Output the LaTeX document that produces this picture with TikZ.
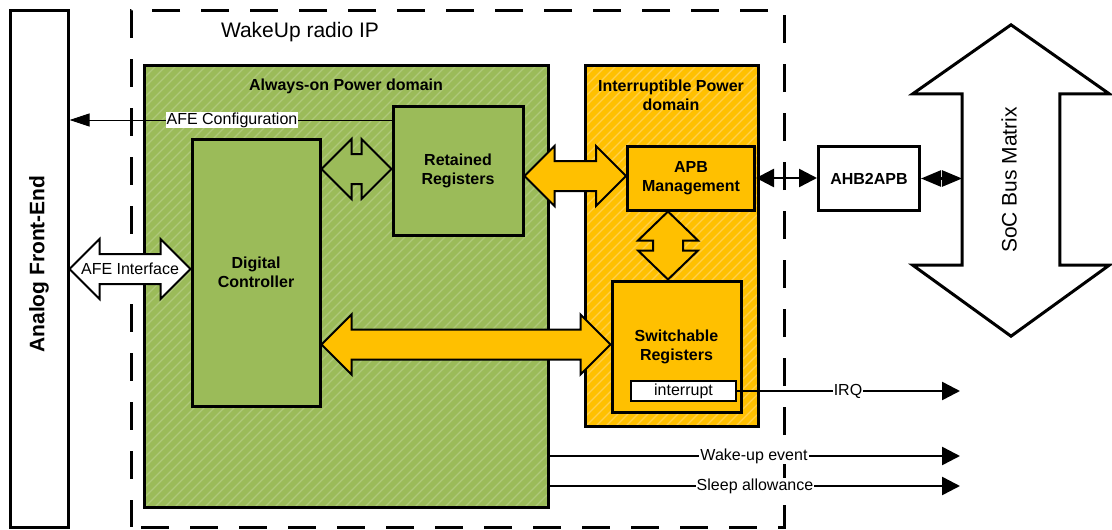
\documentclass[tikz,border=0pt]{standalone}
\usepackage{fontspec}
\setmainfont{Liberation Sans}
\usetikzlibrary{calc,arrows.meta}
\definecolor{aon}{HTML}{9BBB59}
\definecolor{aonh}{HTML}{AFC97A}
\definecolor{ipd}{HTML}{FFC000}
\definecolor{ipdh}{HTML}{FFD04D}
\newcommand\fsz{\fontsize{16}{19}\selectfont}
\newcommand\fbig{\fontsize{21}{25}\selectfont}
% horizontal fat double arrow: style, left tip, right tip
\newcommand\hdarrow[3]{%
  \draw[#1] let \p1=#2, \p2=#3 in
   (\x1,\y1) -- (\x1+30pt,\y1+30pt) -- (\x1+30pt,\y1+15pt) -- (\x2-30pt,\y2+15pt)
   -- (\x2-30pt,\y2+30pt) -- (\x2,\y2) -- (\x2-30pt,\y2-30pt) -- (\x2-30pt,\y2-15pt)
   -- (\x1+30pt,\y1-15pt) -- (\x1+30pt,\y1-30pt) -- cycle;}
% vertical fat double arrow: style, top tip, bottom tip
\newcommand\vdarrow[3]{%
  \draw[#1] let \p1=#2, \p2=#3 in
   (\x1,\y1) -- (\x1+30pt,\y1-29pt) -- (\x1+15pt,\y1-29pt) -- (\x2+15pt,\y2+29pt)
   -- (\x2+30pt,\y2+29pt) -- (\x2,\y2) -- (\x2-30pt,\y2+29pt) -- (\x2-15pt,\y2+29pt)
   -- (\x1-15pt,\y1-29pt) -- (\x1-30pt,\y1-29pt) -- cycle;}
\tikzset{
  plainbox/.style={draw, line width=3pt, rectangle, inner sep=0pt, fill=white},
  dashbox/.style={draw, line width=3pt, rectangle, inner sep=0pt, dash pattern=on 28pt off 21pt, dash phase=-10pt},
  gbox/.style={draw, line width=3pt, rectangle, inner sep=0pt, fill=aon, align=center, font=\fsz\bfseries},
  ybox/.style={draw, line width=3pt, rectangle, inner sep=0pt, fill=ipd, align=center, font=\fsz\bfseries},
  wbox/.style={draw, line width=3pt, rectangle, inner sep=0pt, fill=white, align=center, font=\fsz\bfseries},
  smallbox/.style={draw, line width=1.5pt, rectangle, inner sep=0pt, fill=white, font=\fsz},
  dlabel/.style={align=center, font=\fsz\bfseries, inner sep=0pt},
  lbl/.style={font=\fsz, fill=white, inner sep=1pt},
  hatch/.style={line width=1.3pt},
  fatg/.style={draw, line width=2pt, fill=aon, line join=miter},
  faty/.style={draw, line width=2pt, fill=ipd, line join=miter},
  fatw/.style={draw, line width=2pt, fill=white, line join=miter},
  sig/.style={line width=2.5pt, -{Triangle[length=18pt,width=18pt]}},
  bus/.style={line width=2.5pt, {Triangle[length=18pt,width=18pt]}-{Triangle[length=18pt,width=18pt]}},
  bus2/.style={line width=2.5pt, {Triangle[length=20pt,width=16pt]}-{Triangle[length=20pt,width=16pt]}},
  cfgline/.style={line width=1pt, -{Triangle[length=20pt,width=13pt]}},
}
\begin{document}
\begin{tikzpicture}[x=1pt,y=-1pt]
\fill[white] (0,0) rectangle (1112,530);
\useasboundingbox (0,0) rectangle (1112,530);

% Analog front end
\node[plainbox, minimum width=58pt, minimum height=517pt] (afe) at (39,268.5) {};
\node[font=\fbig\bfseries, rotate=90] (afet) at (39,264) {Analog Front-End};

% WakeUp radio IP frame
\node[dashbox, minimum width=653pt, minimum height=517pt] (ip) at (457.5,268.5) {};
\node[font=\fbig] (ipt) at (300,32) {WakeUp radio IP};

% Always-on domain
\node[fill=aon, minimum width=403pt, minimum height=441pt, inner sep=0pt] (aonbox) at (346.5,286.5) {};
\begin{scope}
  \clip (aonbox.south west) rectangle (aonbox.north east);
  \foreach \i in {0,...,88} \draw[hatch, aonh] ($(aonbox.south west)+(\i*10-460,0)$) -- ++(500,-500);
\end{scope}
\draw[line width=3pt] (aonbox.south west) rectangle (aonbox.north east);
\node[dlabel] (aont) at (346,86) {Always-on Power domain};

% Interruptible domain
\node[fill=ipd, minimum width=172pt, minimum height=360pt, inner sep=0pt] (intr) at (672,246) {};
\begin{scope}
  \clip (intr.south west) rectangle (intr.north east);
  \foreach \i in {0,...,57} \draw[hatch, ipdh] ($(intr.south west)+(\i*10-380,0)$) -- ++(500,-500);
\end{scope}
\draw[line width=3pt] (intr.south west) rectangle (intr.north east);
\node[dlabel] (intrt) at (671,95.5) {Interruptible Power\\domain};

% inner blocks
\node[gbox, minimum width=130pt, minimum height=129pt] (ret) at (458,170.5) {Retained\\Registers};
\node[gbox, minimum width=128pt, minimum height=267pt] (dc) at (256,272.5) {Digital\\Controller};
\node[ybox, minimum width=127pt, minimum height=64pt] (apb) at (691,178) {APB\\Management};
\node[ybox, minimum width=129pt, minimum height=131pt] (sw) at (676.5,346.5) {Switchable\\Registers};
\node[smallbox, minimum width=105pt, minimum height=20pt] (irq) at (683.5,391) {interrupt};
\node[wbox, minimum width=101pt, minimum height=64pt] (ahb) at (869,178.5) {AHB2APB};

% SoC bus matrix
\node[minimum width=97.5pt, minimum height=171pt, inner sep=0pt] (soc) at (1011,179.5) {};
\draw[line width=3pt, fill=white, line join=miter]
  (soc.north west) -- ([xshift=-49.25pt]soc.north west) -- ([yshift=69pt]soc.north)
  -- ([xshift=49.25pt]soc.north east) -- (soc.north east) -- (soc.south east)
  -- ([xshift=49.25pt]soc.south east) -- ([yshift=-71pt]soc.south)
  -- ([xshift=-49.25pt]soc.south west) -- (soc.south west) -- cycle;
\node[font=\fbig, rotate=90] (soct) at (1009,180) {SoC Bus Matrix};

% fat double arrows
\coordinate (g1) at (0,169);
\coordinate (g2) at (0,176);
\coordinate (g3) at (0,344.5);
\coordinate (g4) at (0,269);
\coordinate (vx) at (668,0);
\hdarrow{fatg}{(dc.east |- g1)}{(ret.west |- g1)}
\hdarrow{faty}{(ret.east |- g2)}{(apb.west |- g2)}
\hdarrow{faty}{(dc.east |- g3)}{(sw.west |- g3)}
\hdarrow{fatw}{(afe.east |- g4)}{(dc.west |- g4)}
\vdarrow{faty}{(vx |- apb.south)}{(vx |- sw.north)}
\node[font=\fsz, inner sep=0pt] (afeil) at ($(afe.east |- g4)!0.5!(dc.west |- g4)$) {AFE Interface};

% AFE configuration
\coordinate (cfgy) at (0,120);
\draw[cfgline] (ret.west |- cfgy) -- (afe.east |- cfgy);
\node[lbl] (cfgl) at (232,120) {AFE Configuration};

% bus connectors
\draw[bus] (apb.east) -- (apb.east -| ahb.west);
\draw[bus2] (ahb.east) -- (ahb.east -| soc.west);

% output signals
\coordinate (irqend) at (960,391);
\coordinate (wkend) at (960,456);
\coordinate (slend) at (960,486);
\draw[sig] (irq.east) -- (irqend);
\draw[sig] (aonbox.east |- wkend) -- (wkend);
\draw[sig] (aonbox.east |- slend) -- (slend);
\node[lbl] (irql) at (848,391) {IRQ};
\node[lbl] (wkl) at (754,456) {Wake-up event};
\node[lbl] (sll) at (755,486) {Sleep allowance};
\end{tikzpicture}
\end{document}
